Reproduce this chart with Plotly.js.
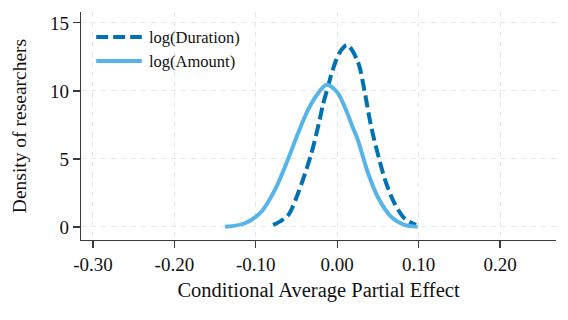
<!DOCTYPE html>
<html>
<head>
<meta charset="utf-8">
<script src="https://cdn.plot.ly/plotly-3.0.1.min.js"></script>
<style>
  html, body { margin: 0; padding: 0; background: #fff; }
  #chart { width: 568px; height: 320px; }
</style>
</head>
<body>
<div id="chart"></div>
<script>
// points
var duration_x = [-0.0787, -0.069, -0.060, -0.048, -0.0318, -0.0216, -0.0175, -0.0114, -0.0073, -0.0012, 0.005, 0.0122, 0.0253, 0.0335, 0.0416, 0.0519, 0.058, 0.066, 0.0703, 0.0825, 0.0967]
var duration_y = [0.15, 0.45, 0.88, 2.5, 5.4, 7.87, 9.0, 10.3, 11.2, 12.28, 13.0, 13.38, 12.15, 10.0, 7.4, 4.9, 3.6, 2.3, 1.74, 0.64, 0.15]

var amount_x = [-0.1378, -0.1133, -0.093, -0.0766, -0.0624, -0.048, -0.0359, -0.025, -0.013, 0.0, 0.009, 0.0192, 0.0253, 0.0376, 0.0498, 0.066, 0.0825, 0.0988]
var amount_y = [0.02, 0.27, 1.13, 2.72, 4.68, 6.9, 8.6, 9.7, 10.45, 9.9, 8.85, 7.3, 6.4, 4.0, 2.2, 0.76, 0.15, 0.02]

var series_names = ['log(Duration)', 'log(Amount)']
var series_colors = ['#0072B2', '#56B4E9']
var series_dash = ['12px,5px', 'solid']

var x_ticks = [-0.3, -0.2, -0.1, 0.0, 0.1, 0.2]
var x_labels = ['-0.30', '-0.20', '-0.10', '0.00', '0.10', '0.20']
var y_ticks = [0, 5, 10, 15]

var serif = 'Liberation Serif'

var traces = [[duration_x, duration_y], [amount_x, amount_y]].map(function (d, i) {
    return {
        x: d[0],
        y: d[1],
        mode: 'lines',
        name: series_names[i],
        line: { color: series_colors[i], width: 4, dash: series_dash[i], shape: 'spline', smoothing: 0.9 }
    }
})

// hand-made legend in the top left corner (so the key line and text gap match)
var legend_y = [0.89, 0.785]
var shapes = []
var annotations = []
for (let i = 0; i < series_names.length; i++) {
    shapes.push({
        type: 'line', xref: 'paper', yref: 'paper',
        x0: 0.032, x1: 0.128, y0: legend_y[i], y1: legend_y[i],
        line: { color: series_colors[i], width: 4, dash: series_dash[i] }
    })
    annotations.push({
        xref: 'paper', yref: 'paper', x: 0.139, y: legend_y[i],
        xanchor: 'left', yanchor: 'middle', showarrow: false,
        text: series_names[i],
        font: { family: serif, size: 16.5, color: '#111' }
    })
}

var axis_common = {
    showline: true,
    linecolor: '#3a3a3a',
    linewidth: 1.3,
    ticks: 'outside',
    ticklen: 7,
    tickwidth: 1.2,
    tickcolor: '#3a3a3a',
    showgrid: true,
    gridcolor: '#e6e6e6',
    griddash: '5px,5px',
    gridwidth: 1,
    zeroline: false,
    tickfont: { family: serif, size: 19, color: '#111' }
}

var layout = {
    width: 568,
    height: 320,
    margin: { l: 81, r: 12, t: 12, b: 80 },
    font: { family: serif, color: '#111' },
    showlegend: false,
    shapes: shapes,
    annotations: annotations,
    xaxis: Object.assign({}, axis_common, {
        range: [-0.3147, 0.2687],
        tickvals: x_ticks,
        ticktext: x_labels,
        title: { text: 'Conditional Average Partial Effect', font: { family: serif, size: 20.5, color: '#111' }, standoff: 8 }
    }),
    yaxis: Object.assign({}, axis_common, {
        range: [-0.96, 15.8],
        tickvals: y_ticks,
        title: { text: 'Density of researchers', font: { family: serif, size: 19.5, color: '#111' }, standoff: 18 }
    }),
    paper_bgcolor: '#fff',
    plot_bgcolor: '#fff'
}

Plotly.newPlot('chart', traces, layout, { displayModeBar: false, staticPlot: true })
</script>
</body>
</html>
